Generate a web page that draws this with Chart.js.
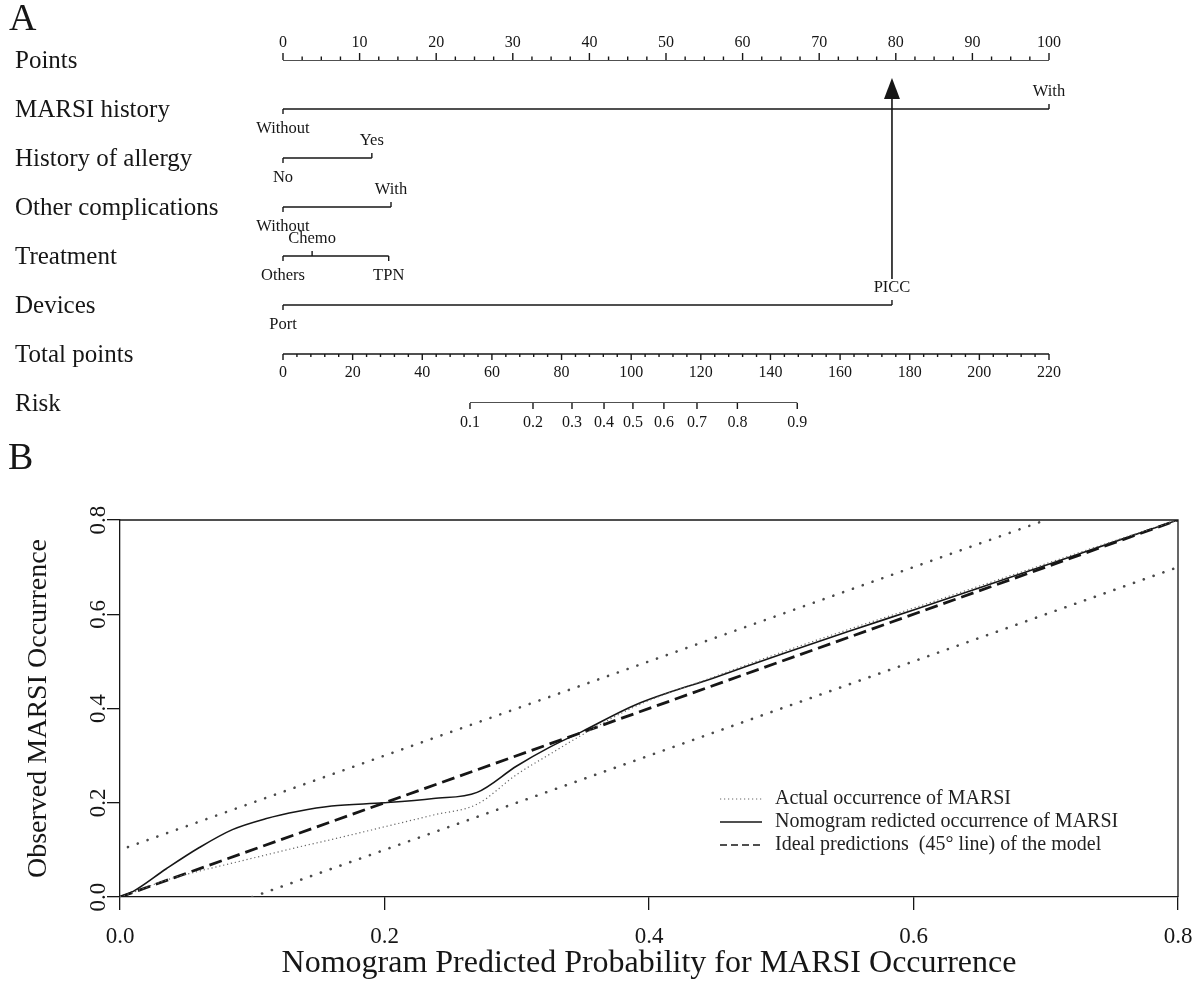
<!DOCTYPE html>
<html>
<head>
<meta charset="utf-8">
<script src="https://cdn.jsdelivr.net/npm/chart.js@4.4.1/dist/chart.umd.min.js"></script>
<style>
html,body{margin:0;padding:0;background:#fff;}
#wrap{position:relative;width:1200px;height:981px;overflow:hidden;}
.box{position:absolute;left:0;width:1200px;}
</style>
</head>
<body>
<div id="wrap">
  <div class="box" style="top:0;height:435px"><canvas id="cA"></canvas></div>
  <div class="box" style="top:435px;height:546px"><canvas id="cB"></canvas></div>
</div>
<script>
// ---------------- DATA: panel A (nomogram) ----------------
const rowLabels = ["Points","MARSI history","History of allergy","Other complications","Treatment","Devices","Total points","Risk"];
const pointsTicks = [0,10,20,30,40,50,60,70,80,90,100];
const pointsMinorStep = 2.5;
const marsiLevels = ["Without","With"];
const marsiPoints = [0,100];
const allergyLevels = ["No","Yes"];
const allergyPoints = [0,11.6];
const complicationLevels = ["Without","With"];
const complicationPoints = [0,14.1];
const treatmentLevels = ["Others","Chemo","TPN"];
const treatmentPoints = [0,3.8,13.8];
const deviceLevels = ["Port","PICC"];
const devicePoints = [0,79.5];
const totalPointsTicks = [0,20,40,60,80,100,120,140,160,180,200,220];
const totalPointsMinorStep = 4;
const riskTicks = ["0.1","0.2","0.3","0.4","0.5","0.6","0.7","0.8","0.9"];
const riskTotalPoints = [53.7,71.8,83.0,92.2,100.5,109.4,118.9,130.5,147.7];
const arrowPoints = 79.5;

// ---------------- DATA: panel B (calibration) ----------------
const calX      = [0,0.01,0.035,0.06,0.085,0.11,0.135,0.16,0.2,0.237,0.27,0.30,0.325,0.35,0.39,0.45,0.5,0.55,0.6,0.65,0.7,0.75,0.8];
const nomogramY = [0,0.012,0.060,0.105,0.143,0.166,0.182,0.193,0.2,0.209,0.222,0.278,0.318,0.352,0.408,0.466,0.515,0.563,0.609,0.656,0.704,0.752,0.8];
const actualY   = [0,0.010,0.036,0.055,0.072,0.089,0.106,0.122,0.149,0.174,0.197,0.260,0.303,0.345,0.405,0.468,0.519,0.567,0.613,0.660,0.707,0.754,0.8];
const idealX = [0,0.8];
const idealY = [0,0.8];
const upperX = [0.006,0.7];
const upperY = [0.106,0.8];
const lowerX = [0.1,0.8];
const lowerY = [0,0.7];
const axisTicksB = [0,0.2,0.4,0.6,0.8];
const legendLabels = ["Actual occurrence of MARSI","Nomogram redicted occurrence of MARSI","Ideal predictions  (45\u00b0 line) of the model"];
const xTitleB = "Nomogram Predicted Probability for MARSI Occurrence";
const yTitleB = "Observed MARSI Occurrence";

const SERIF = "'Liberation Serif','Times New Roman',serif";
const INK = "#161616";

// ---------------- Panel A ----------------
const variables = [
  {row:1, levels:marsiLevels, points:marsiPoints},
  {row:2, levels:allergyLevels, points:allergyPoints},
  {row:3, levels:complicationLevels, points:complicationPoints},
  {row:4, levels:treatmentLevels, points:treatmentPoints},
  {row:5, levels:deviceLevels, points:devicePoints}
];
const lineDS = (pts, axis) => ({data:pts, xAxisID:axis, borderColor:INK, borderWidth:1.4, pointRadius:0, tension:0, fill:false});
const dsA = [];
dsA.push(lineDS([{x:pointsTicks[0],y:0},{x:pointsTicks[pointsTicks.length-1],y:0}],'x'));
variables.forEach(v => {
  dsA.push(lineDS([{x:Math.min(...v.points),y:v.row},{x:Math.max(...v.points),y:v.row}],'x'));
});
dsA.push(lineDS([{x:totalPointsTicks[0],y:6},{x:totalPointsTicks[totalPointsTicks.length-1],y:6}],'xt'));
dsA.push(lineDS([{x:riskTotalPoints[0],y:7},{x:riskTotalPoints[riskTotalPoints.length-1],y:7}],'xt'));

function seg(ctx,x1,y1,x2,y2){ctx.beginPath();ctx.moveTo(x1,y1);ctx.lineTo(x2,y2);ctx.stroke();}

const nomoPlugin = {
  id:'nomo',
  afterDatasetsDraw(chart){
    const ctx = chart.ctx, x = chart.scales.x, xt = chart.scales.xt, y = chart.scales.y;
    ctx.save();
    ctx.strokeStyle = INK; ctx.fillStyle = INK; ctx.lineWidth = 1.4;
    // panel letter
    ctx.font = `38px ${SERIF}`; ctx.textAlign='left'; ctx.textBaseline='middle';
    ctx.fillText("A", 9, 20);
    // row labels
    ctx.font = `25px ${SERIF}`;
    rowLabels.forEach((t,i)=>ctx.fillText(t, 15, y.getPixelForValue(i)+1));
    // Points axis
    const y0 = y.getPixelForValue(0);
    const pMax = pointsTicks[pointsTicks.length-1];
    for (let k=0; k*pointsMinorStep<=pMax+1e-9; k++){
      const v = k*pointsMinorStep, px = x.getPixelForValue(v);
      const major = pointsTicks.includes(v);
      seg(ctx,px,y0,px,y0-(major?7:3.5));
    }
    ctx.font = `16px ${SERIF}`; ctx.textAlign='center';
    pointsTicks.forEach(v=>ctx.fillText(String(v), x.getPixelForValue(v), y0-17));
    // variables
    ctx.font = `16.5px ${SERIF}`;
    variables.forEach(v=>{
      const ry = y.getPixelForValue(v.row);
      v.levels.forEach((lab,i)=>{
        const px = x.getPixelForValue(v.points[i]);
        const above = i%2===1;
        seg(ctx,px,ry,px,ry+(above?-5:5));
        ctx.fillText(lab, px, ry+(above?-17:19.5));
      });
    });
    ctx.font = `16px ${SERIF}`;
    // Total points axis
    const y6 = y.getPixelForValue(6);
    const tMax = totalPointsTicks[totalPointsTicks.length-1];
    for (let k=0; k*totalPointsMinorStep<=tMax+1e-9; k++){
      const v = k*totalPointsMinorStep, px = xt.getPixelForValue(v);
      const major = totalPointsTicks.includes(v);
      seg(ctx,px,y6,px,y6+(major?6:3));
    }
    totalPointsTicks.forEach(v=>ctx.fillText(String(v), xt.getPixelForValue(v), y6+18.5));
    // Risk axis
    const y7 = y.getPixelForValue(7);
    riskTotalPoints.forEach((v,i)=>{
      const px = xt.getPixelForValue(v);
      seg(ctx,px,y7,px,y7+6);
      ctx.fillText(riskTicks[i], px, y7+19.5);
    });
    // Arrow from PICC up to Points axis
    const ax = x.getPixelForValue(arrowPoints);
    const yDev = y.getPixelForValue(5);
    ctx.lineWidth = 1.6;
    seg(ctx, ax, yDev-26, ax, y0+36);
    ctx.beginPath();
    ctx.moveTo(ax, y0+18); ctx.lineTo(ax-8, y0+39); ctx.lineTo(ax+8, y0+39); ctx.closePath(); ctx.fill();
    ctx.restore();
  }
};

new Chart(document.getElementById('cA'), {
  type:'line',
  data:{datasets:dsA},
  options:{
    responsive:true, maintainAspectRatio:false, animation:false,
    layout:{padding:{left:283, right:151, top:60, bottom:32}},
    plugins:{legend:{display:false}, tooltip:{enabled:false}},
    scales:{
      x:{type:'linear', min:0, max:100, display:false},
      xt:{type:'linear', min:0, max:220, display:false},
      y:{type:'linear', min:0, max:7, reverse:true, display:false}
    }
  },
  plugins:[nomoPlugin]
});

// ---------------- Panel B ----------------
const toXY = (xs,ys)=>xs.map((v,i)=>({x:v,y:ys[i]}));
const dsB = [
  {label:legendLabels[0], data:toXY(calX,actualY), borderColor:'#666', borderWidth:1.2, borderDash:[1.2,2.8], pointRadius:0, cubicInterpolationMode:'monotone', fill:false},
  {label:legendLabels[1], data:toXY(calX,nomogramY), borderColor:INK, borderWidth:1.6, pointRadius:0, cubicInterpolationMode:'monotone', fill:false},
  {label:legendLabels[2], data:toXY(idealX,idealY), borderColor:INK, borderWidth:2.8, borderDash:[13,6], pointRadius:0, tension:0, fill:false},
  {label:'upper', data:toXY(upperX,upperY), borderColor:'#4a4a4a', borderWidth:2.6, borderDash:[0.1,10.3], borderCapStyle:'round', pointRadius:0, tension:0, fill:false},
  {label:'lower', data:toXY(lowerX,lowerY), borderColor:'#4a4a4a', borderWidth:2.6, borderDash:[0.1,10.3], borderCapStyle:'round', pointRadius:0, tension:0, fill:false}
];
const legendStyles = [
  {color:'#666', width:1.1, dash:[1.2,2.8]},
  {color:INK, width:1.6, dash:[]},
  {color:INK, width:1.5, dash:[7,4]}
];

const calPlugin = {
  id:'cal',
  afterDraw(chart){
    const ctx = chart.ctx, a = chart.chartArea;
    ctx.save();
    ctx.strokeStyle = INK; ctx.lineWidth = 1.3;
    ctx.beginPath(); ctx.moveTo(a.left, a.top); ctx.lineTo(a.right, a.top); ctx.lineTo(a.right, a.bottom); ctx.stroke();
    // legend
    ctx.font = `20px ${SERIF}`; ctx.textAlign='left'; ctx.textBaseline='middle'; ctx.fillStyle = '#222';
    legendLabels.forEach((t,i)=>{
      const ly = 364 + i*23;
      const st = legendStyles[i];
      ctx.strokeStyle = st.color; ctx.lineWidth = st.width; ctx.setLineDash(st.dash);
      ctx.beginPath(); ctx.moveTo(720, ly); ctx.lineTo(762, ly); ctx.stroke();
      ctx.setLineDash([]);
      ctx.fillText(t, 775, ly);
    });
    // panel letter
    ctx.fillStyle = INK;
    ctx.font = `38px ${SERIF}`;
    ctx.fillText("B", 8, 24);
    ctx.restore();
  }
};

new Chart(document.getElementById('cB'), {
  type:'line',
  data:{datasets:dsB},
  options:{
    responsive:true, maintainAspectRatio:false, animation:false,
    layout:{padding:{left:0, right:22, top:85, bottom:0}},
    plugins:{legend:{display:false}, tooltip:{enabled:false}},
    scales:{
      x:{
        type:'linear', min:0, max:0.8,
        afterBuildTicks:s=>{s.ticks = axisTicksB.map(v=>({value:v}));},
        afterFit:s=>{s.height = 84; s.paddingLeft = 0; s.paddingRight = 0;},
        ticks:{callback:v=>Number(v).toFixed(1), font:{family:SERIF, size:23}, color:INK, padding:13, maxRotation:0, minRotation:0},
        grid:{drawOnChartArea:false, drawTicks:true, tickLength:13, color:INK, lineWidth:1.3},
        border:{display:true, color:INK, width:1.3},
        title:{display:true, text:xTitleB, font:{family:SERIF, size:32}, color:INK, padding:{top:0,bottom:-2}}
      },
      y:{
        type:'linear', min:0, max:0.8,
        afterBuildTicks:s=>{s.ticks = axisTicksB.map(v=>({value:v}));},
        afterFit:s=>{s.width = 120; s.paddingTop = 0; s.paddingBottom = 0;},
        ticks:{callback:v=>Number(v).toFixed(1), font:{family:SERIF, size:23}, color:INK, padding:-6, minRotation:90, maxRotation:90, crossAlign:'center'},
        grid:{drawOnChartArea:false, drawTicks:true, tickLength:13, color:INK, lineWidth:1.3},
        border:{display:true, color:INK, width:1.3},
        title:{display:true, text:yTitleB, font:{family:SERIF, size:28}, color:INK, padding:{top:22,bottom:0}}
      }
    }
  },
  plugins:[calPlugin]
});
</script>
</body>
</html>
